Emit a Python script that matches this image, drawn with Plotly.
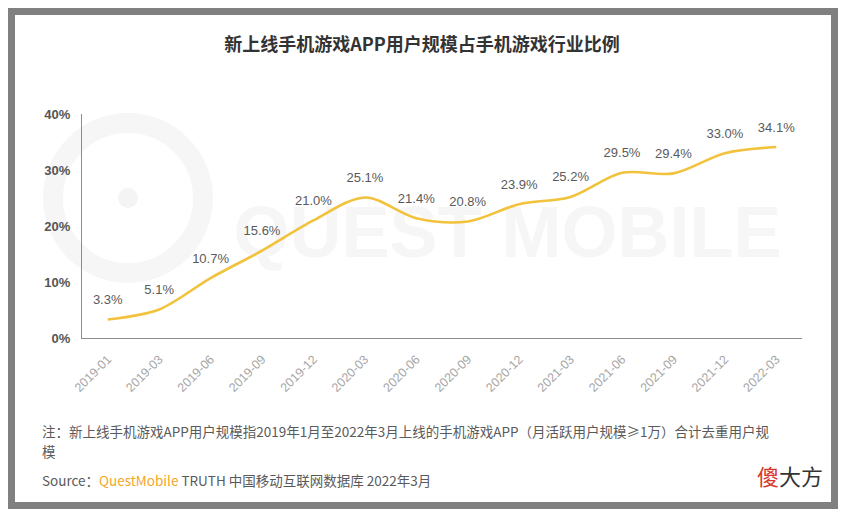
import plotly.graph_objects as go

# ---- data ----
categories = ["2019-01", "2019-03", "2019-06", "2019-09", "2019-12", "2020-03", "2020-06",
              "2020-09", "2020-12", "2021-03", "2021-06", "2021-09", "2021-12", "2022-03"]
share_pct = [3.3, 5.1, 10.7, 15.6, 21.0, 25.1, 21.4, 20.8, 23.9, 25.2, 29.5, 29.4, 33.0, 34.1]
y_ticks = [0, 10, 20, 30, 40]
y_tick_labels = ["0%", "10%", "20%", "30%", "40%"]

title_text = "新上线手机游戏APP用户规模占手机游戏行业比例"
note_line1 = "注：新上线手机游戏APP用户规模指2019年1月至2022年3月上线的手机游戏APP（月活跃用户规模≥1万）合计去重用户规"
note_line2 = "模"
source_text = ("Source：<span style='color:#F4A62A'>QuestMobile</span> TRUTH 中国移动互联网数据库 2022年3月")

W, H = 844, 512
L, R, T, B = 82, 42, 114, 174
PW, PH = W - L - R, H - T - B

def px(x):
    return (x - L) / PW

def py(y):
    return (H - B - y) / PH

FONT = "Liberation Sans, Noto Sans CJK SC, sans-serif"
CJK = "Noto Sans CJK SC, sans-serif"

fig = go.Figure()
fig.add_trace(go.Scatter(
    x=categories, y=share_pct,
    mode="lines+markers+text",
    line=dict(color="#F2C23C", width=2.6, shape="spline", smoothing=0.9),
    marker=dict(size=18, color="rgba(0,0,0,0)"),
    text=[f"{v:.1f}%" for v in share_pct],
    textposition="top center",
    textfont=dict(family=FONT, size=13, color="#5a5a5a"),
    hoverinfo="skip",
    showlegend=False,
))

shapes = [
    # outer grey frame
    dict(type="rect", xref="paper", yref="paper", x0=px(11.5), x1=px(834.5), y0=py(11.5), y1=py(505.5),
         line=dict(color="#808080", width=7), fillcolor="rgba(0,0,0,0)", layer="below"),
    # watermark ring + dot
    dict(type="circle", xref="paper", yref="paper", x0=px(53), x1=px(203), y0=py(123), y1=py(273),
         line=dict(color="#f6f6f6", width=20), layer="below"),
    dict(type="circle", xref="paper", yref="paper", x0=px(118), x1=px(138), y0=py(188), y1=py(208),
         line=dict(width=0), fillcolor="#f4f4f4", layer="below"),
    # watermark text
    dict(type="rect", xref="paper", yref="paper", x0=px(215), x1=px(800), y0=py(195), y1=py(255),
         line=dict(width=0), fillcolor="rgba(0,0,0,0)", layer="below",
         label=dict(text="QUEST MOBILE",
                    font=dict(family="Liberation Sans, sans-serif", size=72, color="#f6f6f6", weight="bold"),
                    textposition="middle center")),
]

annotations = [
    dict(xref="paper", yref="paper", x=px(40), y=py(430.5), xanchor="left", yanchor="middle",
         text=note_line1, showarrow=False, align="left",
         font=dict(family=CJK, size=13.5, color="#5a5a5a")),
    dict(xref="paper", yref="paper", x=px(40), y=py(450.5), xanchor="left", yanchor="middle",
         text=note_line2, showarrow=False, align="left",
         font=dict(family=CJK, size=13.5, color="#5a5a5a")),
    dict(xref="paper", yref="paper", x=px(40), y=py(480), xanchor="left", yanchor="middle",
         text=source_text, showarrow=False, align="left",
         font=dict(family=CJK, size=13.5, color="#5a5a5a")),
    dict(xref="paper", yref="paper", x=px(825), y=py(475), xanchor="right", yanchor="middle",
         text="<span style='color:#D9362B'>傻</span>大方", showarrow=False,
         font=dict(family=CJK, size=22, color="#333333")),
]

fig.update_layout(
    width=W, height=H,
    margin=dict(l=L, r=R, t=T, b=B),
    paper_bgcolor="white", plot_bgcolor="rgba(0,0,0,0)",
    title=dict(text=title_text, x=0.5, xref="container", xanchor="center",
               y=1 - 45 / H, yref="container", yanchor="middle",
               font=dict(family=CJK, size=18, color="#333333", weight="bold")),
    shapes=shapes, annotations=annotations,
    xaxis=dict(type="category", range=[-0.5, len(categories) - 0.5], showgrid=False, zeroline=False,
               showline=True, linecolor="#8c8c8c", linewidth=1.2, ticks="", tickangle=-45,
               ticklabelstandoff=8,
               tickfont=dict(family=FONT, size=12.5, color="#a6a6a6")),
    yaxis=dict(range=[0, 40], tickvals=y_ticks, ticktext=y_tick_labels, showgrid=False, zeroline=False,
               showline=True, linecolor="#8c8c8c", linewidth=1.2, ticks="", ticklabelstandoff=8,
               tickfont=dict(family=FONT, size=13, color="#555555", weight="bold")),
)

fig.write_html("out.html")
